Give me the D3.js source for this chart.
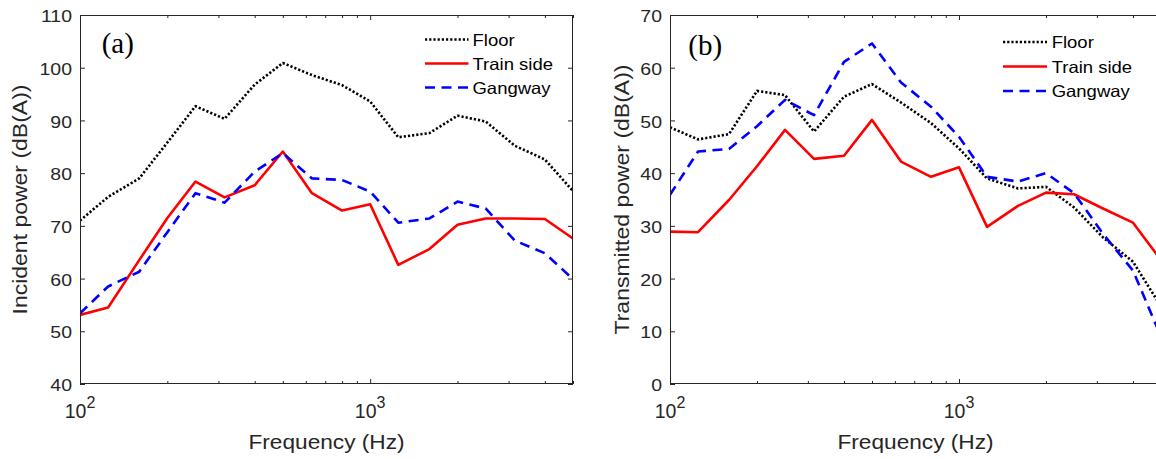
<!DOCTYPE html>
<html><head><meta charset="utf-8">
<script src="https://cdn.jsdelivr.net/npm/d3@7"></script>
<style>body{margin:0;background:#fff}svg{display:block}</style>
</head><body>
<svg id="c" width="1156" height="459"></svg>
<script>
// ---------- data ----------
const freqs = [100,125,160,200,250,315,400,500,630,800,1000,1250,1600,2000,2500,3150,4000,5000];
const seriesNames = ["Floor","Train side","Gangway"];
const incFloor = [71.0,75.5,79.0,85.8,92.7,90.3,96.8,100.9,98.6,96.7,93.6,86.8,87.6,90.9,89.8,85.2,82.6,76.6];
const incTrain = [53.1,54.5,63.5,71.5,78.4,75.4,77.7,84.1,76.2,72.9,74.1,62.6,65.6,70.2,71.4,71.4,71.3,67.6];
const incGang  = [53.4,58.5,61.3,68.8,76.2,74.4,80.3,83.8,79.0,78.7,76.5,70.6,71.4,74.6,73.3,67.2,64.8,59.9];
const trFloor  = [48.7,46.4,47.4,55.6,54.8,47.9,54.5,56.9,53.4,49.5,44.7,39.0,37.1,37.4,33.5,27.8,23.2,14.7];
const trTrain  = [28.9,28.8,34.9,41.3,48.2,42.7,43.3,50.1,42.2,39.3,41.1,29.8,33.8,36.3,36.0,33.3,30.6,23.5];
const trGang   = [35.9,44.1,44.6,48.9,53.9,51.0,61.1,64.6,57.2,52.6,46.9,39.3,38.4,40.0,36.2,28.5,21.5,9.0];
const incTicks = [40,50,60,70,80,90,100,110];
const trTicks  = [0,10,20,30,40,50,60,70];
const xMajor = [100,1000];
const xMajorExp = ["2","3"];
const xMinor = [200,300,400,500,600,700,800,900,2000,3000,4000,5000];

// ---------- styles ----------
const styles = [
  {color:"#000000", dash:"2.2,2", width:2.6},
  {color:"#ff0000", dash:null, width:2.6},
  {color:"#0000ff", dash:"10,6.5", width:2.6}
];
const AX = "#262626";
const SANS = "'Liberation Sans', Arial, sans-serif";

const panels = [
  {id:"a", left:80, right:573, top:15, bottom:384, yDomain:[40,110], yTicks:incTicks,
   series:[incFloor,incTrain,incGang], tag:"(a)", tagX:101.7, tagY:53.3,
   ylabel:"Incident power (dB(A))", ylabX:26.7, ylabLen:230,
   legLineX:[425,468.5], legTextX:472.5, legY0:39.5, legStep:24},
  {id:"b", left:670, right:1161, top:15, bottom:384, yDomain:[0,70], yTicks:trTicks,
   series:[trFloor,trTrain,trGang], tag:"(b)", tagX:688.3, tagY:55,
   ylabel:"Transmitted power (dB(A))", ylabX:629, ylabLen:270,
   legLineX:[1003,1047], legTextX:1051.7, legY0:42, legStep:24.5}
];

const svg = d3.select("#c");

function stretch(sel, k){
  sel.each(function(){
    const L = this.getComputedTextLength();
    d3.select(this).attr("textLength", L*k).attr("lengthAdjust","spacingAndGlyphs");
  });
}

panels.forEach(p => {
  const x = d3.scaleLog().domain([100,5000]).range([p.left,p.right]);
  const y = d3.scaleLinear().domain(p.yDomain).range([p.bottom,p.top]);
  const g = svg.append("g");

  // clip
  svg.append("clipPath").attr("id","clip"+p.id).append("rect")
    .attr("x",p.left).attr("y",p.top).attr("width",p.right-p.left).attr("height",p.bottom-p.top);

  // lines
  const line = d3.line().x((d,i)=>x(freqs[i])).y(d=>y(d));
  const lg = g.append("g").attr("clip-path","url(#clip"+p.id+")");
  p.series.forEach((s,i)=>{
    const st = styles[i];
    lg.append("path").attr("d", line(s)).attr("fill","none")
      .attr("stroke", st.color).attr("stroke-width", st.width)
      .attr("stroke-dasharray", st.dash).attr("stroke-linejoin","round");
  });

  // y axis left
  const ya = g.append("g").attr("transform",`translate(${p.left},0)`)
    .call(d3.axisLeft(y).tickValues(p.yTicks).tickSizeInner(-5).tickSizeOuter(0).tickPadding(8).tickFormat(d3.format("d")));
  ya.select(".domain").remove();
  ya.attr("color",AX).attr("font-family",SANS).attr("font-size",16.5);
  ya.selectAll("text").attr("dy","0.4em").attr("fill",AX).call(stretch,1.18);

  // y axis right (ticks only)
  const yr = g.append("g").attr("transform",`translate(${p.right},0)`)
    .call(d3.axisRight(y).tickValues(p.yTicks).tickSizeInner(-5).tickSizeOuter(0).tickFormat(""));
  yr.select(".domain").remove(); yr.attr("color",AX);

  // x axes: bottom & top, major & minor
  [[d3.axisBottom, p.bottom],[d3.axisTop, p.top]].forEach(([fn,yy])=>{
    const gm = g.append("g").attr("transform",`translate(0,${yy})`)
      .call(fn(x).tickValues(xMajor).tickSizeInner(-5).tickSizeOuter(0).tickFormat(""));
    gm.select(".domain").remove(); gm.attr("color",AX);
    const gn = g.append("g").attr("transform",`translate(0,${yy})`)
      .call(fn(x).tickValues(xMinor).tickSizeInner(-3).tickSizeOuter(0).tickFormat(""));
    gn.select(".domain").remove(); gn.attr("color",AX);
  });

  // x major tick labels 10^n
  xMajor.forEach((v,i)=>{
    const t = g.append("text").attr("x", x(v)).attr("y", 418).attr("text-anchor","middle")
      .attr("font-family",SANS).attr("fill",AX);
    t.append("tspan").attr("font-size",19.5).text("10");
    t.append("tspan").attr("font-size",16).attr("dy",-10).text(xMajorExp[i]);
  });

  // frame
  g.append("rect").attr("x",p.left+0.5).attr("y",p.top+0.5)
    .attr("width",p.right-p.left-1).attr("height",p.bottom-p.top-1)
    .attr("fill","none").attr("stroke",AX).attr("stroke-width",1);

  // x label
  g.append("text").attr("x",(p.left+p.right)/2).attr("y",449.3).attr("text-anchor","middle")
    .attr("font-family",SANS).attr("font-size",20.5).attr("fill",AX)
    .attr("textLength",156).attr("lengthAdjust","spacingAndGlyphs").text("Frequency (Hz)");

  // y label
  const cy = (p.top+p.bottom)/2;
  g.append("text").attr("transform",`translate(${p.ylabX},${cy}) rotate(-90)`)
    .attr("text-anchor","middle").attr("font-family",SANS).attr("font-size",20.5).attr("fill",AX)
    .attr("textLength",p.ylabLen).attr("lengthAdjust","spacingAndGlyphs").text(p.ylabel);

  // panel tag
  g.append("text").attr("x",p.tagX).attr("y",p.tagY)
    .attr("font-family","'Liberation Serif', 'Times New Roman', serif").attr("font-size",29)
    .attr("fill","#000").text(p.tag);

  // legend
  seriesNames.forEach((nm,i)=>{
    const ly = p.legY0 + i*p.legStep;
    const st = styles[i];
    g.append("line").attr("x1",p.legLineX[0]).attr("x2",p.legLineX[1]).attr("y1",ly).attr("y2",ly)
      .attr("stroke",st.color).attr("stroke-width",st.width).attr("stroke-dasharray",st.dash);
    g.append("text").attr("x",p.legTextX).attr("y",ly+6.3)
      .attr("font-family",SANS).attr("font-size",16.5).attr("fill","#000").text(nm)
      .call(stretch,1.12);
  });
});
</script>
</body></html>
